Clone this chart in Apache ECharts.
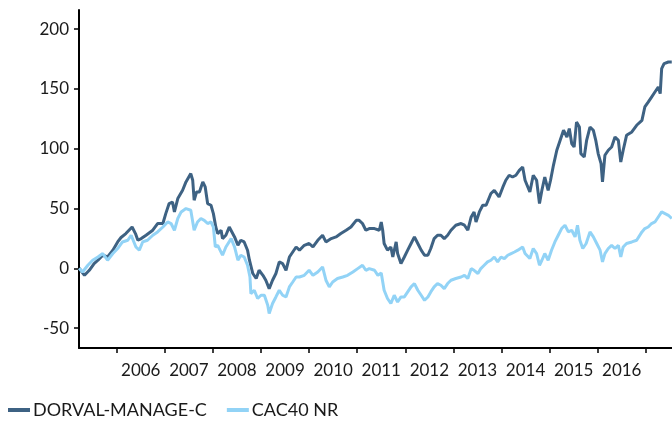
<!DOCTYPE html>
<html>
<head>
<meta charset="utf-8">
<script src="https://cdn.jsdelivr.net/npm/echarts@6/dist/echarts.min.js"></script>
<style>
html,body{margin:0;padding:0;background:#fff;}
#chart{width:672px;height:421px;}
</style>
</head>
<body>
<div id="chart"></div>
<script>
// Series names
const seriesNames = ['DORVAL-MANAGE-C', 'CAC40 NR'];

// Tick positions / labels
const xTickYears = [2006, 2007, 2008, 2009, 2010, 2011, 2012, 2013, 2014, 2015, 2016, 2017];
const xLabelYears = [2006, 2007, 2008, 2009, 2010, 2011, 2012, 2013, 2014, 2015, 2016];
const yTickValues = [-50, 0, 50, 100, 150, 200];

// DORVAL-MANAGE-C: dates (decimal years) and performance (%)
const dorvalDates = [
 2005.22,2005.33,2005.43,2005.53,2005.61,2005.71,2005.81,2005.92,2006.02,2006.09,
 2006.19,2006.32,2006.39,2006.44,2006.51,2006.61,2006.75,2006.85,2006.96,2007.02,
 2007.09,2007.16,2007.20,2007.27,2007.37,2007.44,2007.54,2007.58,2007.61,2007.66,
 2007.72,2007.79,2007.84,2007.89,2007.96,2008.01,2008.06,2008.10,2008.17,2008.20,
 2008.27,2008.34,2008.38,2008.45,2008.52,2008.58,2008.65,2008.72,2008.76,2008.83,
 2008.90,2008.96,2009.04,2009.10,2009.17,2009.24,2009.31,2009.38,2009.45,2009.52,
 2009.59,2009.66,2009.73,2009.80,2009.90,2010.00,2010.08,2010.18,2010.28,2010.35,
 2010.46,2010.56,2010.66,2010.77,2010.87,2010.98,2011.04,2011.11,2011.18,2011.25,
 2011.36,2011.46,2011.50,2011.53,2011.56,2011.63,2011.70,2011.74,2011.81,2011.84,
 2011.91,2011.98,2012.05,2012.12,2012.19,2012.26,2012.33,2012.40,2012.47,2012.53,
 2012.60,2012.67,2012.74,2012.81,2012.88,2012.95,2013.05,2013.16,2013.23,2013.30,
 2013.37,2013.43,2013.47,2013.54,2013.61,2013.68,2013.78,2013.85,2013.95,2014.03,
 2014.09,2014.16,2014.23,2014.30,2014.37,2014.44,2014.49,2014.52,2014.59,2014.66,
 2014.73,2014.79,2014.84,2014.90,2014.97,2015.02,2015.08,2015.15,2015.22,2015.29,
 2015.36,2015.41,2015.46,2015.51,2015.56,2015.62,2015.65,2015.72,2015.77,2015.84,
 2015.91,2015.96,2016.01,2016.07,2016.10,2016.15,2016.22,2016.29,2016.36,2016.43,
 2016.48,2016.53,2016.60,2016.71,2016.81,2016.92,2016.98,2017.05,2017.12,2017.19,
 2017.26,2017.30,2017.33,2017.38,2017.47,2017.54
];
const dorvalValues = [
 0,-5.9,-1.7,3.9,6.7,10.9,9.4,15.1,22.0,25.7,
 29.0,34.5,29.0,23.4,24.8,27.6,31.8,37.4,37.4,45.7,
 54.1,55.4,47.1,58.3,65.2,72.2,79.2,73.6,56.9,63.8,
 63.8,72.2,68.0,54.1,52.7,45.7,34.5,29.0,31.8,24.8,
 27.6,34.5,34.5,26.2,19.2,23.4,22.0,15.1,6.7,-4.4,
 -8.6,-1.7,-5.9,-10.0,-17.0,-10.0,-4.4,5.3,3.9,-1.7,
 9.4,13.6,17.8,15.1,19.2,20.7,17.8,23.4,27.6,22.0,
 24.8,26.2,29.0,31.8,34.5,40.1,40.1,37.4,31.8,33.2,
 33.2,31.8,38.7,31.8,20.7,15.1,17.8,9.4,22.0,12.3,
 3.9,9.4,15.1,20.7,26.2,20.7,15.1,10.9,10.9,16.5,
 24.8,27.6,27.6,24.8,27.6,31.8,36.0,37.4,36.0,31.8,
 42.9,47.1,38.7,47.1,52.7,52.7,62.5,65.2,59.6,68.0,
 73.6,77.8,76.3,77.8,81.9,84.7,73.6,72.2,63.8,77.8,
 73.6,54.1,65.2,76.3,65.2,73.6,86.1,98.7,107.0,115.4,
 109.8,116.8,104.3,101.4,122.3,118.1,95.9,93.1,107.0,118.1,
 115.4,107.0,95.9,87.5,72.2,94.5,98.7,101.4,109.8,107.0,
 88.9,98.7,111.2,114.0,119.6,123.7,134.9,139.0,143.2,147.4,
 151.6,146.1,167.0,171.2,172.5,172.5
];

// CAC40 NR: dates (decimal years) and performance (%)
const cacDates = [
 2005.22,2005.29,2005.40,2005.50,2005.61,2005.71,2005.81,2005.92,2006.02,2006.12,
 2006.23,2006.30,2006.40,2006.47,2006.54,2006.64,2006.75,2006.85,2006.96,2007.06,
 2007.13,2007.20,2007.27,2007.34,2007.44,2007.54,2007.61,2007.68,2007.75,2007.82,
 2007.89,2007.96,2008.01,2008.05,2008.10,2008.20,2008.27,2008.38,2008.45,2008.52,
 2008.58,2008.65,2008.72,2008.77,2008.79,2008.86,2008.93,2009.00,2009.07,2009.14,
 2009.17,2009.24,2009.31,2009.38,2009.45,2009.52,2009.59,2009.66,2009.73,2009.80,
 2009.90,2010.00,2010.08,2010.18,2010.28,2010.35,2010.42,2010.49,2010.59,2010.70,
 2010.80,2010.91,2011.01,2011.11,2011.18,2011.25,2011.36,2011.43,2011.50,2011.56,
 2011.63,2011.70,2011.77,2011.84,2011.91,2011.98,2012.05,2012.12,2012.19,2012.26,
 2012.33,2012.40,2012.47,2012.53,2012.60,2012.67,2012.74,2012.81,2012.88,2012.95,
 2013.05,2013.16,2013.23,2013.30,2013.37,2013.43,2013.51,2013.57,2013.64,2013.71,
 2013.78,2013.85,2013.92,2013.99,2014.06,2014.13,2014.20,2014.27,2014.34,2014.44,
 2014.49,2014.52,2014.59,2014.66,2014.73,2014.79,2014.84,2014.90,2014.97,2015.04,
 2015.11,2015.18,2015.25,2015.32,2015.39,2015.46,2015.53,2015.58,2015.63,2015.69,
 2015.76,2015.84,2015.91,2015.98,2016.05,2016.10,2016.15,2016.22,2016.29,2016.36,
 2016.43,2016.48,2016.53,2016.60,2016.71,2016.81,2016.92,2016.98,2017.05,2017.12,
 2017.19,2017.26,2017.33,2017.40,2017.47,2017.54
];
const cacValues = [
 0,-3.1,2.5,6.7,9.4,12.3,6.7,12.3,16.5,22.0,
 23.4,27.6,17.8,15.1,22.0,23.4,27.6,30.4,34.5,38.7,
 37.4,31.8,41.6,47.1,49.9,48.5,31.8,38.7,41.6,40.1,
 37.4,38.7,34.5,17.8,19.2,10.9,17.8,24.8,17.8,6.7,
 10.9,9.4,2.5,-7.3,-21.2,-18.4,-25.3,-22.6,-22.6,-30.9,
 -37.9,-29.5,-24.0,-18.4,-22.6,-24.0,-15.6,-11.5,-7.3,-7.3,
 -5.9,-1.7,-5.9,-3.1,1.1,-10.0,-15.6,-11.5,-8.6,-7.3,
 -5.9,-3.1,-0.3,2.5,-1.7,-0.3,-1.7,-5.9,-4.0,-18.4,
 -25.3,-29.5,-22.6,-28.2,-24.0,-24.0,-19.8,-15.6,-12.8,-18.4,
 -22.6,-26.8,-24.0,-19.8,-15.6,-12.8,-14.2,-17.0,-12.8,-10.0,
 -8.6,-7.3,-5.9,-8.6,-0.3,-1.7,-4.4,-0.3,2.5,5.3,
 6.7,9.4,5.3,9.4,8.1,10.9,12.3,13.6,15.1,17.8,
 12.3,13.6,8.1,16.5,12.3,2.5,6.7,12.3,6.7,15.1,
 22.0,27.6,33.2,36.0,30.4,31.8,26.2,36.0,23.4,16.5,
 20.7,30.4,26.2,20.7,15.1,5.3,12.3,16.5,19.2,16.5,
 19.2,9.4,17.8,20.7,22.0,23.4,30.4,33.2,34.5,37.4,
 38.7,42.9,47.1,45.7,44.3,41.6
];

const zip = (xs, ys) => xs.map((x, i) => [x, ys[i]]);

const chart = echarts.init(document.getElementById('chart'), null, {renderer: 'canvas'});
const fontFamily = 'Lato, "Open Sans", sans-serif';
chart.setOption({
  animation: false,
  backgroundColor: '#ffffff',
  textStyle: {fontFamily: fontFamily},
  grid: {left: 79, right: 0, top: 10, bottom: 73},
  legend: {
    left: 8, top: 401, padding: 0,
    icon: 'rect', itemWidth: 22, itemHeight: 4, itemGap: 20,
    textStyle: {fontSize: 18, color: '#1a1a1a', fontFamily: fontFamily, padding: [0, 0, 0, -2]},
    data: seriesNames
  },
  xAxis: {
    type: 'value',
    min: 2005.216, max: 2017.545,
    splitLine: {show: false},
    axisLine: {onZero: false, lineStyle: {color: '#000', width: 2}},
    axisTick: {show: true, customValues: xTickYears, length: 5, lineStyle: {color: '#000', width: 1.5}},
    axisLabel: {
      customValues: xLabelYears.map(y => y + 0.5),
      formatter: v => String(Math.floor(v)),
      fontSize: 17, color: '#1a1a1a', margin: 14
    }
  },
  yAxis: {
    type: 'value',
    min: -66.7, max: 216,
    splitLine: {show: false},
    axisLine: {show: true, onZero: false, lineStyle: {color: '#000', width: 2}},
    axisTick: {show: true, customValues: yTickValues, length: 5, lineStyle: {color: '#000', width: 1.5}},
    axisLabel: {customValues: yTickValues, fontSize: 17, color: '#1a1a1a', margin: 10}
  },
  series: [
    {
      name: seriesNames[0], type: 'line', showSymbol: false,
      data: zip(dorvalDates, dorvalValues),
      lineStyle: {color: '#3E6283', width: 3},
      itemStyle: {color: '#3E6283'}
    },
    {
      name: seriesNames[1], type: 'line', showSymbol: false,
      data: zip(cacDates, cacValues),
      lineStyle: {color: '#92D3F6', width: 3},
      itemStyle: {color: '#92D3F6'}
    }
  ]
});
</script>
</body>
</html>
